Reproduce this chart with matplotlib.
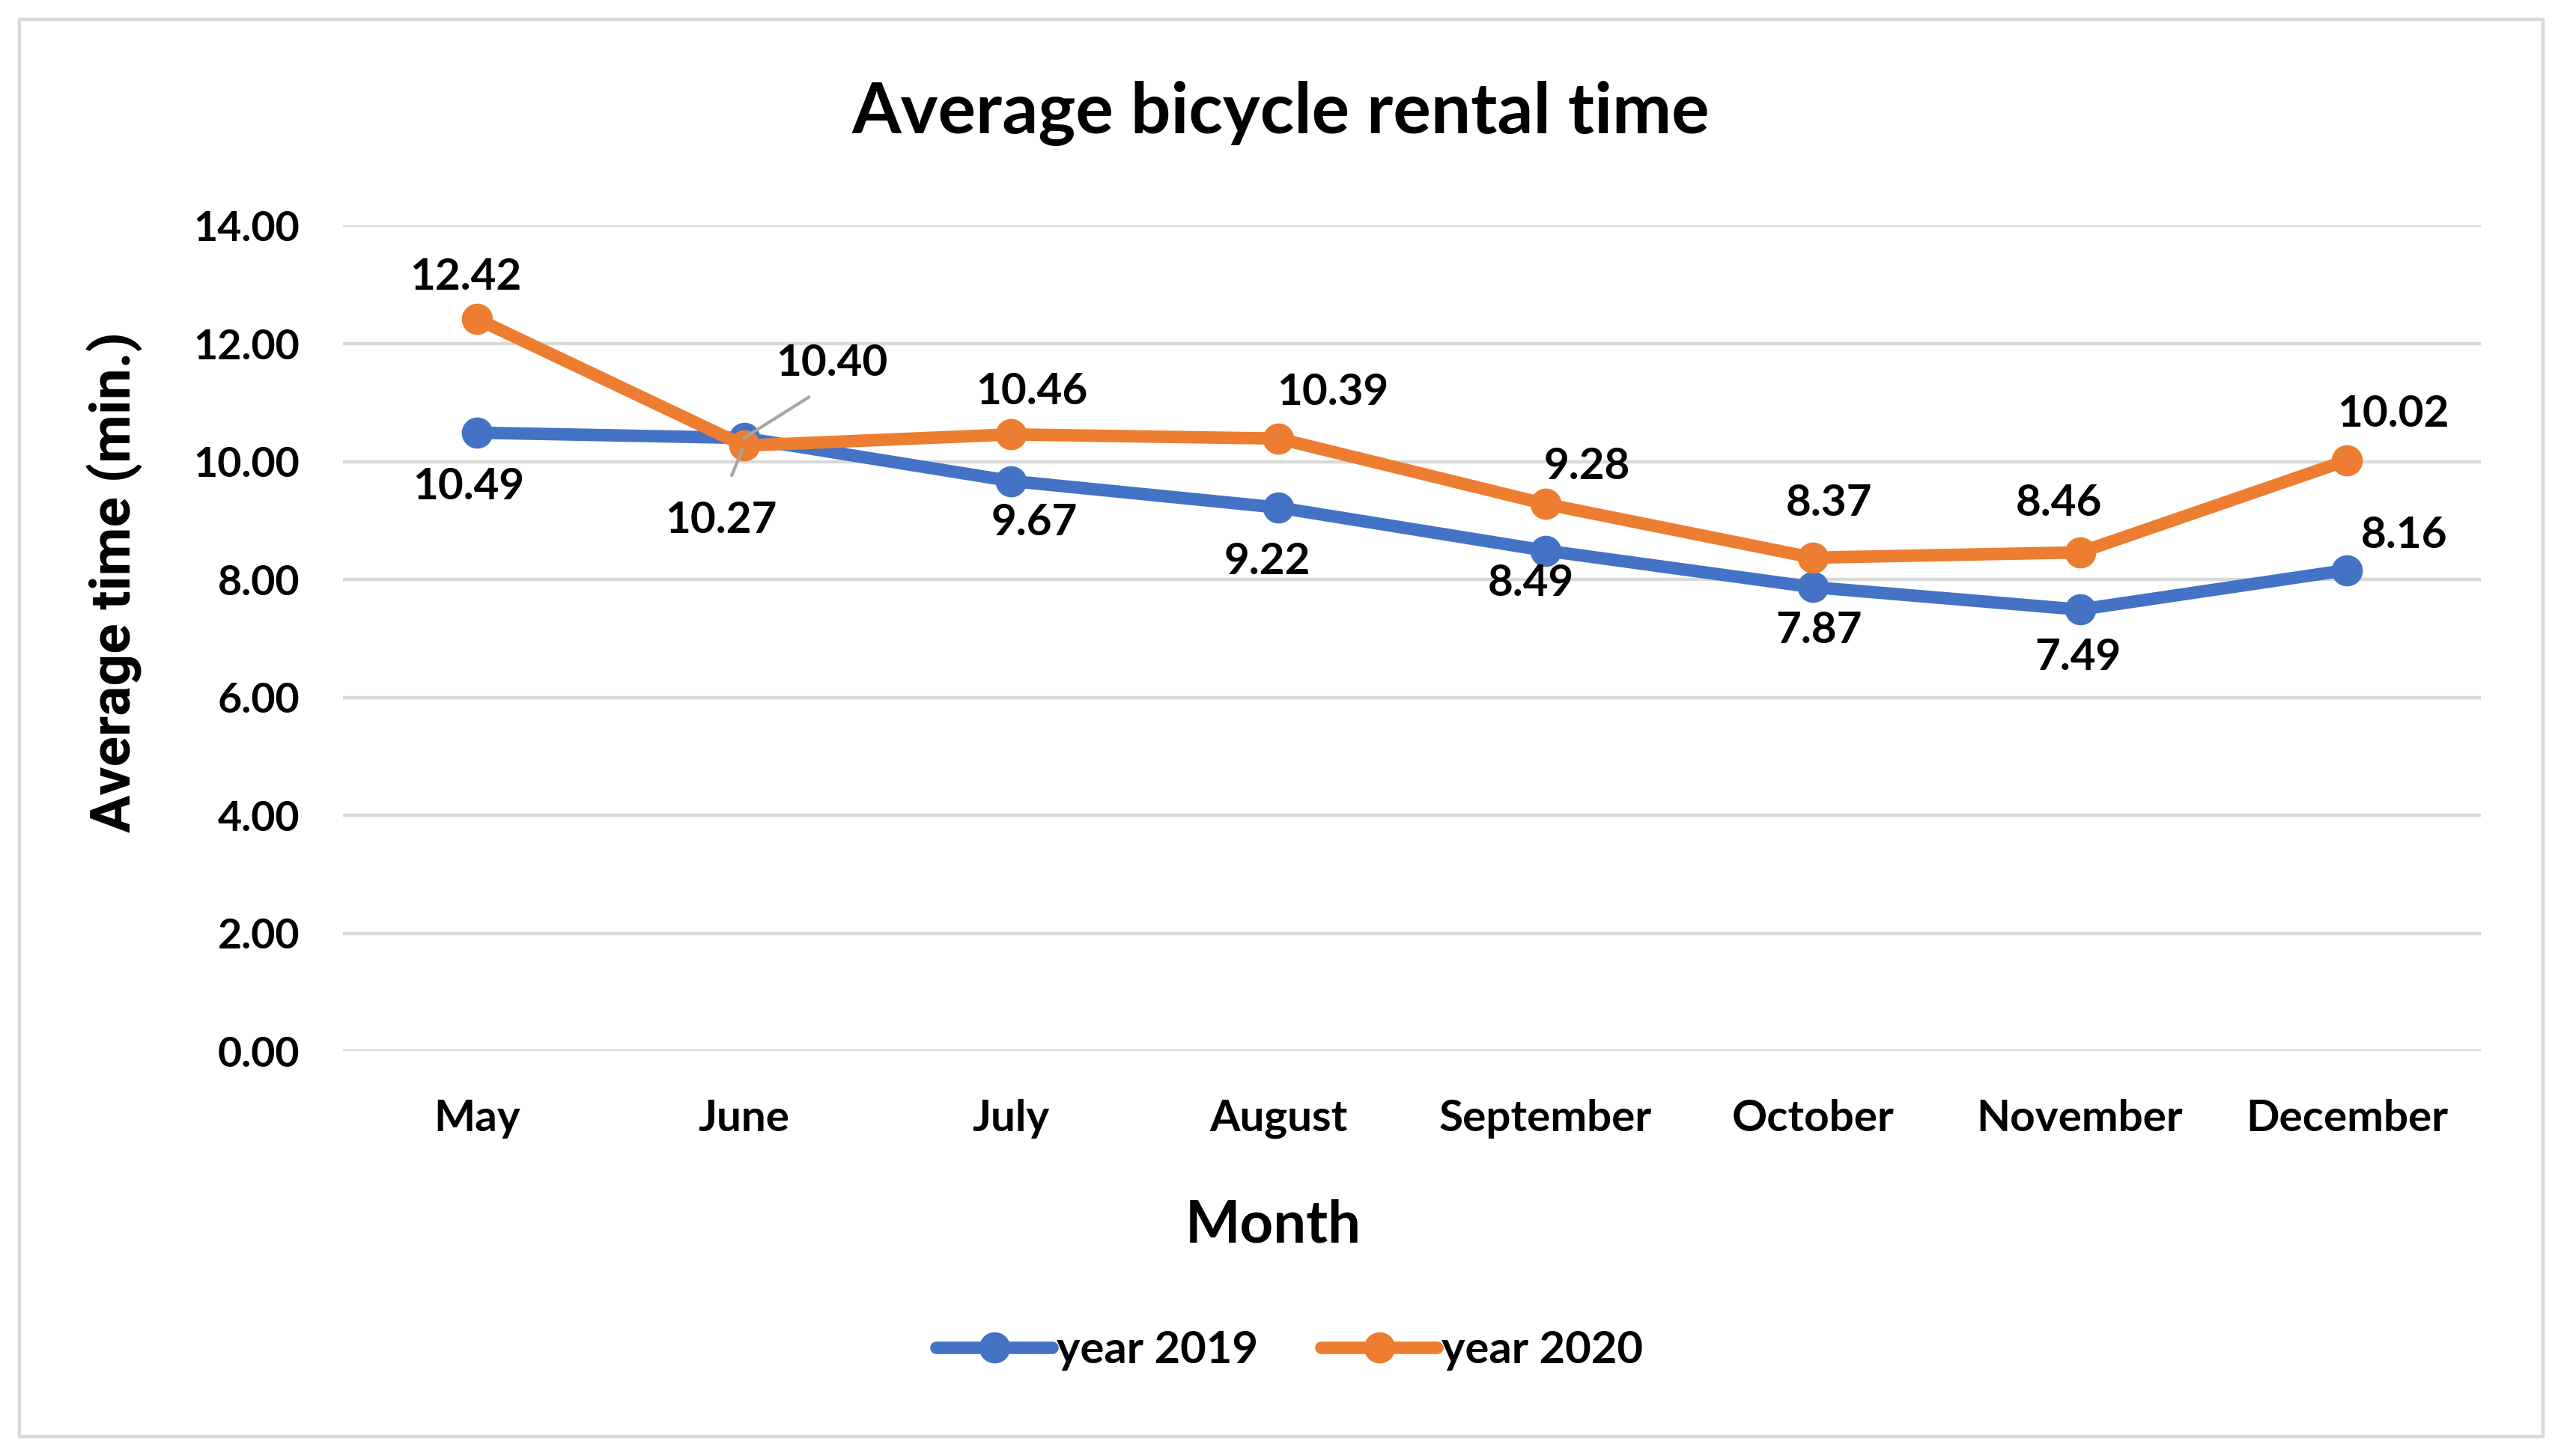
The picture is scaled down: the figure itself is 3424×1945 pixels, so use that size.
import matplotlib
matplotlib.use("Agg")
import matplotlib.pyplot as plt
from matplotlib.patches import Rectangle

months = ["May", "June", "July", "August", "September", "October", "November", "December"]
y2019 = [10.49, 10.40, 9.67, 9.22, 8.49, 7.87, 7.49, 8.16]
y2020 = [12.42, 10.27, 10.46, 10.39, 9.28, 8.37, 8.46, 10.02]
yticks = [0, 2, 4, 6, 8, 10, 12, 14]

# label offsets (points)
off2019 = [(-4, -26), (42, 36), (11, -20), (-5.5, -26), (-7, -16), (3, -21), (-1, -23), (27.5, 16.5)]
off2020 = [(-5.5, 20), (-11, -36), (10, 20.5), (26, 22), (20, 18), (8, 26), (-10, 23.5), (22, 22)]

plt.rcParams['font.family'] = ['Lato', 'DejaVu Sans']
plt.rcParams['font.weight'] = 'bold'

BLUE = "#4472C4"
ORANGE = "#ED7D31"
GRID = "#D9D9D9"

fig = plt.figure(figsize=(17.12, 9.725), dpi=200)
ax = fig.add_axes([0.1339, 0.278, 0.9675 - 0.1339, 0.845 - 0.278])

x = list(range(len(months)))
ax.plot(x, y2019, color=BLUE, lw=6, marker='o', ms=14, label='year 2019', zorder=3,
        solid_capstyle='round')
ax.plot(x, y2020, color=ORANGE, lw=6, marker='o', ms=14, label='year 2020', zorder=4,
        solid_capstyle='round')

ax.set_xlim(-0.5, len(months) - 0.5)
ax.set_ylim(0, 14)
ax.set_yticks(yticks)
ax.set_yticklabels([f"{v:.2f}" for v in yticks])
ax.set_xticks(x)
ax.set_xticklabels(months)
ax.tick_params(axis='y', length=0, pad=21, labelsize=20)
ax.tick_params(axis='x', length=0, pad=23, labelsize=21)
ax.grid(axis='y', color=GRID, lw=1.6)
ax.set_axisbelow(True)
for s in ax.spines.values():
    s.set_visible(False)

for i in range(len(months)):
    if i == 1:
        ax.annotate(f"{y2019[i]:.2f}", (x[i], y2019[i]), xytext=off2019[i], textcoords='offset points',
                    ha='center', va='center', fontsize=21, zorder=6,
                    arrowprops=dict(arrowstyle='-', color='#A5A5A5', lw=1.5, shrinkA=9, shrinkB=0,
                                    relpos=(0.5, 0.0)))
        ax.annotate(f"{y2020[i]:.2f}", (x[i], y2020[i]), xytext=off2020[i], textcoords='offset points',
                    ha='center', va='center', fontsize=21, zorder=6,
                    arrowprops=dict(arrowstyle='-', color='#A5A5A5', lw=1.5, shrinkA=11, shrinkB=2,
                                    relpos=(0.5, 1.0)))
    else:
        ax.annotate(f"{y2019[i]:.2f}", (x[i], y2019[i]), xytext=off2019[i], textcoords='offset points',
                    ha='center', va='center', fontsize=21, zorder=6)
        ax.annotate(f"{y2020[i]:.2f}", (x[i], y2020[i]), xytext=off2020[i], textcoords='offset points',
                    ha='center', va='center', fontsize=21, zorder=6)

fig.text(0.4995, 0.922, "Average bicycle rental time", ha='center', va='center', fontsize=34,
         fontweight='bold')
fig.text(0.4965, 0.158, "Month", ha='center', va='center', fontsize=28, fontweight='bold')
fig.text(0.0447, 0.6, "Average time (min.)", ha='center', va='center', rotation=90,
         fontsize=27, fontweight='bold', family=['Roboto', 'DejaVu Sans'])

leg = fig.legend(loc='center', bbox_to_anchor=(0.503, 0.0725), ncol=2, frameon=False,
                 fontsize=21.5, handlelength=2.6, handletextpad=0.1, columnspacing=1.4)

fig.patches.append(Rectangle((0.0077, 0.0135), 0.9917 - 0.0077, 0.9865 - 0.0135,
                             transform=fig.transFigure, fill=False, edgecolor=GRID, lw=1.6))

fig.savefig("out.png", dpi=200)
